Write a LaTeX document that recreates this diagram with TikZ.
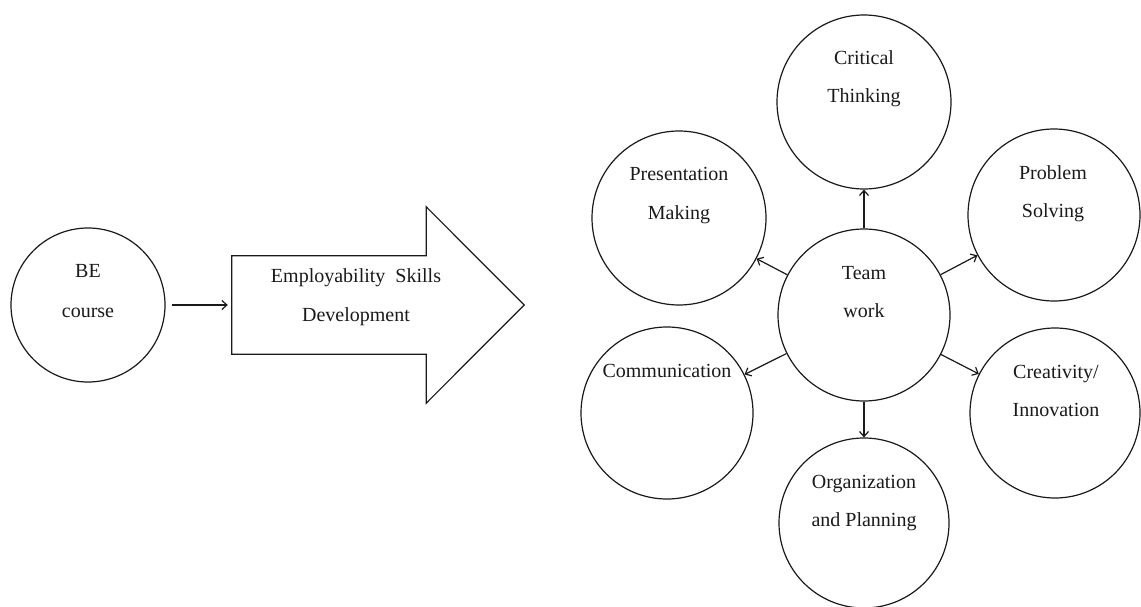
\documentclass[tikz,border=0pt]{standalone}
\usepackage{fontspec}
\setmainfont{Liberation Serif}
\usetikzlibrary{arrows.meta}
\definecolor{ink}{HTML}{1A1A1A}
\begin{document}
\begin{tikzpicture}[x=1pt,y=-1pt,
  bubble/.style={circle, draw=ink, line width=1.2pt, inner sep=0pt, minimum size=#1},
  lbl/.style={anchor=base, inner sep=0pt, font=\fontsize{20}{24}\selectfont, text=ink},
  link/.style={draw=ink, line width=1.2pt, -{Straight Barb[length=5pt,width=9pt]}}]
\fill[white] (0,0) rectangle (1141,607);
\useasboundingbox (0,0) rectangle (1141,607);

% course circle
\node[bubble=154] (be) at (88,305) {};
\node[lbl] (beA) at (88,277) {BE};
\node[lbl] (beB) at (88,317) {course};

% block arrow: body rectangle plus triangular head
\node[inner sep=0pt, minimum width=194pt, minimum height=98pt] (body) at (329,305) {};
\draw[ink, line width=1.2pt, line join=miter]
  (body.north west) -- (body.north east) -- ([yshift=49pt]body.north east)
  -- ([xshift=98pt]body.east) -- ([yshift=-49pt]body.south east)
  -- (body.south east) -- (body.south west) -- cycle;
\node[lbl] (esdA) at (356,282) {Employability\hspace{0.5em}Skills};
\node[lbl] (esdB) at (356,321) {Development};

\draw[link, shorten <=6pt, shorten >=4pt] (be) -- (body);

% skill circles around team work
\node[bubble=172] (team) at (864,315) {};
\node[bubble=174] (crit) at (864,102) {};
\node[bubble=174] (pres) at (679,218) {};
\node[bubble=172] (prob) at (1054,215) {};
\node[bubble=172] (comm) at (667,413) {};
\node[bubble=170] (crea) at (1055,413) {};
\node[bubble=170] (org)  at (864,523) {};

\node[lbl] (teamA) at (864,279) {Team};
\node[lbl] (teamB) at (864,317) {work};
\node[lbl] (critA) at (864,65) {Critical};
\node[lbl] (critB) at (864,103) {Thinking};
\node[lbl] (presA) at (679,181) {Presentation};
\node[lbl] (presB) at (679,219) {Making};
\node[lbl] (probA) at (1053,179) {Problem};
\node[lbl] (probB) at (1053,217) {Solving};
\node[lbl] (commA) at (667,377) {Communication};
\node[lbl] (creaA) at (1056,378) {Creativity/};
\node[lbl] (creaB) at (1056,416) {Innovation};
\node[lbl] (orgA)  at (864,488) {Organization};
\node[lbl] (orgB)  at (864,526) {and Planning};

\draw[link] (team) -- (crit);
\draw[link] (team) -- (pres);
\draw[link] (team) -- (prob);
\draw[link] (team) -- (comm);
\draw[link] (team) -- (crea);
\draw[link] (team) -- (org);
\end{tikzpicture}
\end{document}
